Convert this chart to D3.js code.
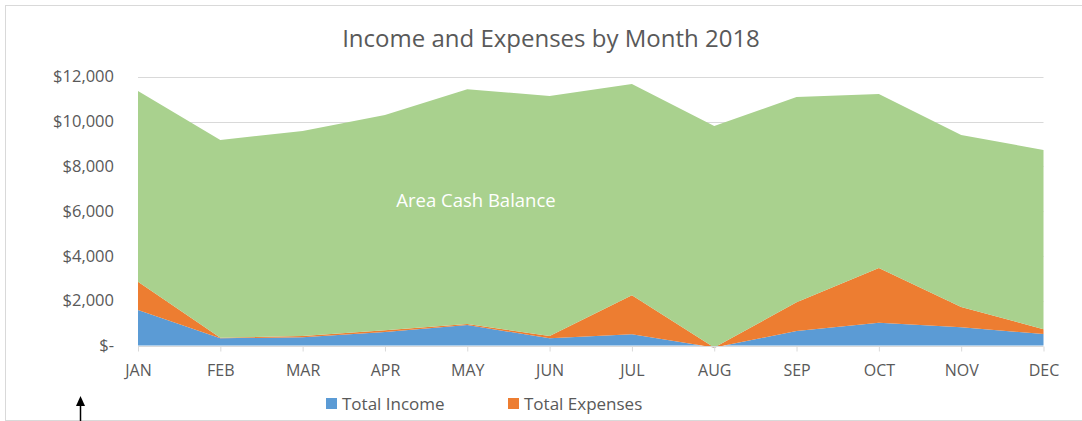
<!DOCTYPE html>
<html>
<head>
<meta charset="utf-8">
<script src="https://cdn.jsdelivr.net/npm/d3@7"></script>
<style>
  body { margin: 0; background: #fff; }
  svg { font-family: "Open Sans", sans-serif; }
</style>
</head>
<body>
<script>
const months = ["JAN", "FEB", "MAR", "APR", "MAY", "JUN", "JUL", "AUG", "SEP", "OCT", "NOV", "DEC"];
const totalIncome = [1585, 321, 366, 603, 915, 321, 500, -90, 647, 1018, 812, 513];
const totalExpenses = [1260, 30, 60, 80, 50, 100, 1740, 0, 1280, 2440, 910, 210];
const cashBalance = [8515, 8825, 9150, 9610, 10475, 10715, 9435, 9890, 9165, 7770, 7680, 8005];
const yTicks = [0, 2000, 4000, 6000, 8000, 10000, 12000];

const width = 1082;
const height = 421;

let svg = d3.select("body").append("svg")
    .attr("width", width)
    .attr("height", height);

// chart border (right edge runs off the picture)
svg.append("rect")
    .attr("x", 5.5).attr("y", 5.5)
    .attr("width", 1100).attr("height", 415)
    .attr("fill", "none")
    .attr("stroke", "#d9d9d9");

const x = d3.scalePoint().domain(months).range([138, 1043.5]);
const y = d3.scaleLinear().domain([0, 12000]).range([345.5, 76.7]);

// gridlines
svg.selectAll(".grid")
    .data(yTicks.slice(1))
    .enter()
    .append("line")
    .attr("x1", x("JAN")).attr("x2", x("DEC"))
    .attr("y1", d => Math.round(y(d)) + 0.5)
    .attr("y2", d => Math.round(y(d)) + 0.5)
    .attr("stroke", "#d9d9d9");

// stacked areas
const rows = months.map((m, i) => ({
    month: m,
    income: totalIncome[i],
    expenses: totalExpenses[i],
    cash: cashBalance[i]
}));
const stack = d3.stack().keys(["income", "expenses", "cash"]);
const layers = stack(rows);
const colors = { income: "#5b9bd5", expenses: "#ed7d31", cash: "#a9d18e" };

const area = d3.area()
    .x(d => x(d.data.month))
    .y0(d => y(d[0]))
    .y1(d => y(d[1]));

svg.selectAll(".layer")
    .data(layers)
    .enter()
    .append("path")
    .attr("d", area)
    .attr("fill", d => colors[d.key]);

// x axis
const xAxis = svg.append("g")
    .attr("transform", `translate(0,${Math.round(y(0)) + 0.5})`)
    .call(d3.axisBottom(x).tickSize(5).tickPadding(13));
xAxis.select(".domain").attr("stroke", "#d9d9d9").attr("d", `M${x("JAN")},0H${x("DEC")}`);
xAxis.selectAll(".tick line").attr("stroke", "#d9d9d9");
xAxis.selectAll(".tick text")
    .attr("fill", "#595959")
    .style("font-size", "16px")
    .style("font-family", "Open Sans");

// y axis labels
svg.selectAll(".ylab")
    .data(yTicks)
    .enter()
    .append("text")
    .attr("x", 114)
    .attr("y", d => y(d))
    .attr("dy", "0.35em")
    .attr("text-anchor", "end")
    .attr("fill", "#595959")
    .style("font-size", "16.5px")
    .text(d => d === 0 ? "$-" : "$" + d3.format(",")(d));

// title
svg.append("text")
    .attr("x", 551).attr("y", 47)
    .attr("text-anchor", "middle")
    .attr("fill", "#595959")
    .style("font-size", "24px")
    .text("Income and Expenses by Month 2018");

// label inside the green area
svg.append("text")
    .attr("x", 476).attr("y", 207)
    .attr("text-anchor", "middle")
    .attr("fill", "#ffffff")
    .style("font-size", "18.5px")
    .text("Area Cash Balance");

// legend
const legend = [
    { name: "Total Income", color: colors.income, x: 326 },
    { name: "Total Expenses", color: colors.expenses, x: 508 }
];
let lg = svg.selectAll(".legend")
    .data(legend)
    .enter()
    .append("g")
    .attr("transform", d => `translate(${d.x},398)`);
lg.append("rect")
    .attr("width", 11).attr("height", 11)
    .attr("fill", d => d.color);
lg.append("text")
    .attr("x", 16).attr("y", 11.5)
    .attr("fill", "#595959")
    .style("font-size", "17px")
    .text(d => d.name);

// arrow at the bottom left
svg.append("line")
    .attr("x1", 80.5).attr("x2", 80.5)
    .attr("y1", 405).attr("y2", 421)
    .attr("stroke", "#000").attr("stroke-width", 1.5);
svg.append("path")
    .attr("d", "M80.5,396 L76,406 L85,406 Z")
    .attr("fill", "#000");
</script>
</body>
</html>
